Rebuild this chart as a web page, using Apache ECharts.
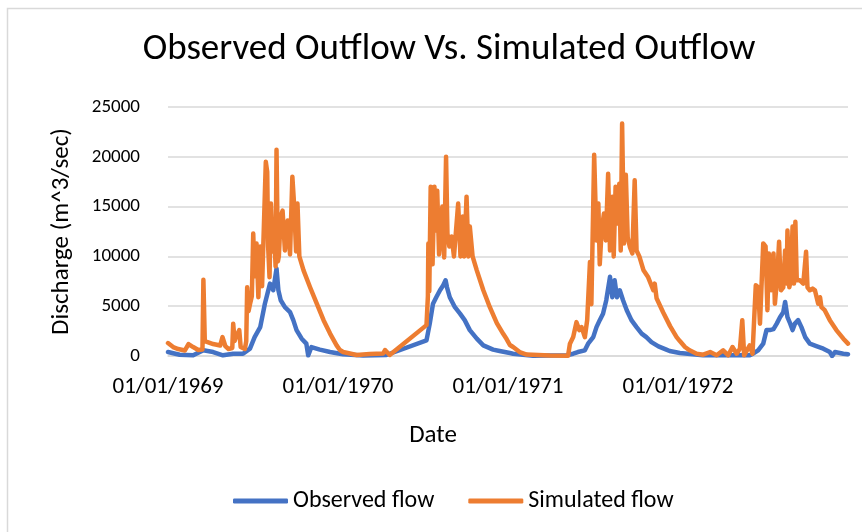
<!DOCTYPE html>
<html>
<head>
<meta charset="utf-8">
<title>Observed Outflow Vs. Simulated Outflow</title>
<script src="https://cdn.jsdelivr.net/npm/echarts@6/dist/echarts.min.js"></script>
<style>
  html, body { margin: 0; padding: 0; background: #fff; }
  #chart { width: 862px; height: 532px; }
</style>
</head>
<body>
<div id="chart"></div>
<script>
// tick labels on the date axis
const xTickDates = ['1969-01-01', '1970-01-01', '1971-01-01', '1972-01-01']
const xTickLabels = ['01/01/1969', '01/01/1970', '01/01/1971', '01/01/1972']
const yTicks = [0, 5000, 10000, 15000, 20000, 25000]

// observed flow (m^3/sec)
const obsDates = [
  '1969-01-01', '1969-01-26', '1969-02-24', '1969-03-18', '1969-04-08', '1969-04-29', '1969-05-21', '1969-06-11',
  '1969-06-26', '1969-07-06', '1969-07-18', '1969-07-28', '1969-08-08', '1969-08-15', '1969-08-22', '1969-08-26',
  '1969-08-31', '1969-09-09', '1969-09-20', '1969-09-27', '1969-10-04', '1969-10-15', '1969-10-25', '1969-10-29',
  '1969-11-05', '1969-11-23', '1969-12-15', '1970-01-05', '1970-01-12', '1970-02-24', '1970-04-15', '1970-07-10',
  '1970-07-17', '1970-07-24', '1970-07-31', '1970-08-08', '1970-08-15', '1970-08-20', '1970-08-23', '1970-08-29',
  '1970-09-09', '1970-09-20', '1970-09-30', '1970-10-11', '1970-10-26', '1970-11-09', '1970-11-30', '1970-12-14',
  '1971-01-05', '1971-01-12', '1971-02-24', '1971-05-07', '1971-05-21', '1971-05-31', '1971-06-15', '1971-06-22',
  '1971-07-03', '1971-07-10', '1971-07-17', '1971-07-24', '1971-07-31', '1971-08-08', '1971-08-13', '1971-08-18',
  '1971-08-23', '1971-08-29', '1971-09-05', '1971-09-13', '1971-09-23', '1971-10-04', '1971-10-15', '1971-10-25',
  '1971-11-05', '1971-11-20', '1971-12-07', '1971-12-14', '1972-01-05', '1972-02-24', '1972-06-03', '1972-06-10',
  '1972-06-21', '1972-07-02', '1972-07-09', '1972-07-16', '1972-07-24', '1972-07-31', '1972-08-07', '1972-08-14',
  '1972-08-18', '1972-08-23', '1972-08-29', '1972-09-03', '1972-09-08', '1972-09-15', '1972-09-22', '1972-09-30',
  '1972-10-10', '1972-10-24', '1972-11-08', '1972-11-22', '1972-11-27', '1972-12-03', '1972-12-21', '1972-12-31'
]
const obsFlow = [
  400, 130, 70, 570, 400, 70, 230, 230,
  740, 1900, 2900, 5250, 7270, 6600, 8780, 6600,
  5600, 4900, 4400, 3600, 2600, 1740, 1240, 70,
  900, 640, 400, 230, 170, 50, 100, 1570,
  3250, 5250, 5900, 6600, 7100, 7600, 6900, 5900,
  4900, 4250, 3600, 2600, 1740, 1070, 640, 500,
  300, 230, 30, 70, 230, 400, 570, 1240,
  1900, 2900, 3600, 4250, 5600, 7950, 5900, 7600,
  5900, 6600, 5600, 4600, 3600, 2900, 2250, 1900,
  1400, 970, 640, 500, 300, 70, 70, 230,
  570, 1240, 2600, 2600, 2700, 3250, 3900, 4400,
  5430, 3900, 3250, 2600, 3250, 3600, 2900, 1900,
  1240, 1000, 740, 400, 0, 400, 230, 170
]

// simulated flow (m^3/sec)
const simDates = [
  '1969-01-01', '1969-01-12', '1969-01-23', '1969-02-06', '1969-02-14', '1969-02-24', '1969-03-07', '1969-03-16',
  '1969-03-18', '1969-03-21', '1969-03-25', '1969-04-08', '1969-04-23', '1969-04-28', '1969-05-04', '1969-05-11',
  '1969-05-19', '1969-05-21', '1969-05-24', '1969-05-27', '1969-06-03', '1969-06-06', '1969-06-08', '1969-06-15',
  '1969-06-18', '1969-06-20', '1969-06-23', '1969-06-26', '1969-06-30', '1969-07-03', '1969-07-06', '1969-07-10',
  '1969-07-14', '1969-07-18', '1969-07-22', '1969-07-25', '1969-07-30', '1969-08-02', '1969-08-04', '1969-08-07',
  '1969-08-10', '1969-08-14', '1969-08-17', '1969-08-20', '1969-08-22', '1969-08-25', '1969-08-27', '1969-08-31',
  '1969-09-04', '1969-09-09', '1969-09-15', '1969-09-20', '1969-09-25', '1969-09-29', '1969-10-03', '1969-10-06',
  '1969-10-10', '1969-10-19', '1969-11-02', '1969-11-16', '1969-12-01', '1969-12-15', '1969-12-29', '1970-01-05',
  '1970-01-12', '1970-02-10', '1970-03-10', '1970-04-08', '1970-04-12', '1970-04-22', '1970-07-10', '1970-07-13',
  '1970-07-14', '1970-07-16', '1970-07-19', '1970-07-23', '1970-07-27', '1970-07-30', '1970-08-02', '1970-08-06',
  '1970-08-10', '1970-08-13', '1970-08-17', '1970-08-21', '1970-08-24', '1970-08-28', '1970-09-02', '1970-09-07',
  '1970-09-16', '1970-09-21', '1970-09-26', '1970-09-29', '1970-10-04', '1970-10-08', '1970-10-11', '1970-10-17',
  '1970-10-26', '1970-11-09', '1970-11-23', '1970-12-08', '1970-12-22', '1970-12-29', '1971-01-05', '1971-01-12',
  '1971-01-26', '1971-02-10', '1971-04-01', '1971-05-10', '1971-05-14', '1971-05-21', '1971-05-28', '1971-06-03',
  '1971-06-08', '1971-06-15', '1971-06-20', '1971-06-26', '1971-06-29', '1971-07-05', '1971-07-10', '1971-07-14',
  '1971-07-17', '1971-07-21', '1971-07-26', '1971-07-30', '1971-08-04', '1971-08-08', '1971-08-13', '1971-08-16',
  '1971-08-20', '1971-08-23', '1971-08-28', '1971-08-31', '1971-09-03', '1971-09-07', '1971-09-11', '1971-09-15',
  '1971-09-20', '1971-09-25', '1971-09-30', '1971-10-04', '1971-10-10', '1971-10-19', '1971-10-29', '1971-11-09',
  '1971-11-12', '1971-11-16', '1971-11-30', '1971-12-15', '1971-12-29', '1972-01-05', '1972-01-16', '1972-01-26',
  '1972-02-10', '1972-02-24', '1972-03-10', '1972-03-24', '1972-04-07', '1972-04-18', '1972-04-27', '1972-05-06',
  '1972-05-13', '1972-05-18', '1972-05-22', '1972-06-03', '1972-06-09', '1972-06-16', '1972-06-21', '1972-06-25',
  '1972-07-02', '1972-07-07', '1972-07-11', '1972-07-14', '1972-07-19', '1972-07-24', '1972-07-27', '1972-08-01',
  '1972-08-05', '1972-08-09', '1972-08-14', '1972-08-18', '1972-08-21', '1972-08-23', '1972-08-27', '1972-08-30',
  '1972-09-03', '1972-09-06', '1972-09-09', '1972-09-12', '1972-09-19', '1972-09-26', '1972-10-02', '1972-10-05',
  '1972-10-10', '1972-10-16', '1972-10-21', '1972-10-28', '1972-11-01', '1972-11-04', '1972-11-11', '1972-11-22',
  '1972-12-06', '1972-12-21', '1972-12-31'
]
const simFlow = [
  1300, 900, 700, 550, 1200, 900, 600, 650,
  7650, 1500, 1400, 1200, 1050, 1900, 1000, 700,
  800, 3250, 1500, 1900, 2600, 900, 700, 700,
  1500, 6900, 4500, 5200, 6000, 12300, 8000, 11300,
  5900, 11000, 7000, 6800, 19500, 18500, 11000, 7900,
  15300, 10500, 12600, 9000, 20700, 9500, 10000, 14000,
  14600, 10600, 13600, 10200, 18000, 15000, 10500, 15300,
  10000, 8600, 6900, 5300, 3600, 2250, 1070, 600,
  400, 100, 200, 250, 600, 100, 3100, 6000,
  11300, 6500, 17000, 9200, 17000, 12600, 16600, 10200,
  12300, 15000, 9900, 20000, 12300, 11000, 12000, 10000,
  15300, 10000, 14000, 10000, 16000, 10000, 13000, 10000,
  8600, 6600, 4900, 3300, 2200, 1700, 1100, 900,
  400, 150, 50, 30, 1240, 1900, 3400, 2600,
  2900, 1900, 3600, 9450, 5200, 20200, 11600, 15300,
  9200, 12600, 14300, 11600, 18300, 10600, 16000, 10000,
  17000, 13300, 17300, 10600, 23350, 11300, 18200, 11900,
  10900, 10300, 17650, 10600, 10000, 8600, 7900, 6600,
  7270, 5800, 4400, 3000, 1900, 1500, 900, 570,
  230, 130, 400, 70, 570, 70, 900, 230,
  740, 3600, 70, 1070, 230, 7100, 6900, 3250,
  11300, 11000, 4600, 10300, 6600, 10300, 5250, 7900,
  11460, 6600, 6900, 10600, 7270, 12600, 6900, 7600,
  13000, 7270, 13470, 7600, 7600, 7270, 10470, 6900,
  6600, 6770, 6600, 5250, 5900, 4900, 4600, 3600,
  2600, 1740, 1240
]

// day number counted from 01/01/1969
function dayOf(s) {
  const p = s.split('-').map(Number)
  return Math.round((Date.UTC(p[0], p[1] - 1, p[2]) - Date.UTC(1969, 0, 1)) / 86400000)
}

const tickDays = xTickDates.map(dayOf)
const font = 'Carlito, Calibri, Lato, sans-serif'

const chart = echarts.init(document.getElementById('chart'))
chart.setOption({
  backgroundColor: '#fff',
  animation: false,
  title: {
    text: 'Observed Outflow Vs. Simulated Outflow',
    left: 444,
    top: 26,
    textAlign: 'center',
    textStyle: { fontFamily: font, fontSize: 37, fontWeight: 'normal', color: '#000' }
  },
  legend: {
    left: 228,
    top: 484,
    itemWidth: 55,
    itemHeight: 5,
    itemGap: 34,
    icon: 'roundRect',
    textStyle: { fontFamily: font, fontSize: 24, color: '#000' },
    data: ['Observed flow', 'Simulated flow']
  },
  graphic: [
    {
      type: 'rect',
      shape: { x: 7.5, y: 8.5, width: 900, height: 600 },
      style: { fill: null, stroke: '#d9d9d9', lineWidth: 1.5 },
      silent: true
    },
    {
      type: 'text',
      x: 433,
      y: 436,
      style: { text: 'Date', fontFamily: font, fontSize: 25, fill: '#000', align: 'center', verticalAlign: 'middle' }
    }
  ],
  grid: { left: 168, right: 14, top: 107, bottom: 176 },
  xAxis: {
    type: 'value',
    min: 0,
    max: dayOf('1972-12-31'),
    interval: 365,
    axisLine: { show: true, lineStyle: { color: '#d9d9d9', width: 1.5 } },
    axisTick: { show: false },
    splitLine: { show: false },
    axisLabel: {
      formatter: function (v) {
        const i = tickDays.indexOf(v)
        return i >= 0 ? xTickLabels[i] : ''
      },
      margin: 20,
      fontFamily: font,
      fontSize: 23,
      color: '#000'
    }
  },
  yAxis: {
    type: 'value',
    min: yTicks[0],
    max: yTicks[yTicks.length - 1],
    interval: 5000,
    name: 'Discharge (m^3/sec)',
    nameLocation: 'middle',
    nameRotate: 90,
    nameGap: 94,
    nameTextStyle: { fontFamily: font, fontSize: 25, color: '#000' },
    axisLine: { show: false },
    axisTick: { show: false },
    splitLine: { lineStyle: { color: '#d9d9d9', width: 1.5 } },
    axisLabel: {
      formatter: function (v) { return String(v) },
      margin: 28,
      fontFamily: font,
      fontSize: 19,
      color: '#000'
    }
  },
  series: [
    {
      name: 'Observed flow',
      type: 'line',
      symbol: 'none',
      color: '#4472c4',
      lineStyle: { width: 4.5, join: 'round', cap: 'round' },
      data: obsDates.map((d, i) => [dayOf(d), obsFlow[i]])
    },
    {
      name: 'Simulated flow',
      type: 'line',
      symbol: 'none',
      color: '#ed7d31',
      lineStyle: { width: 4.5, join: 'round', cap: 'round' },
      data: simDates.map((d, i) => [dayOf(d), simFlow[i]])
    }
  ]
})
</script>
</body>
</html>
